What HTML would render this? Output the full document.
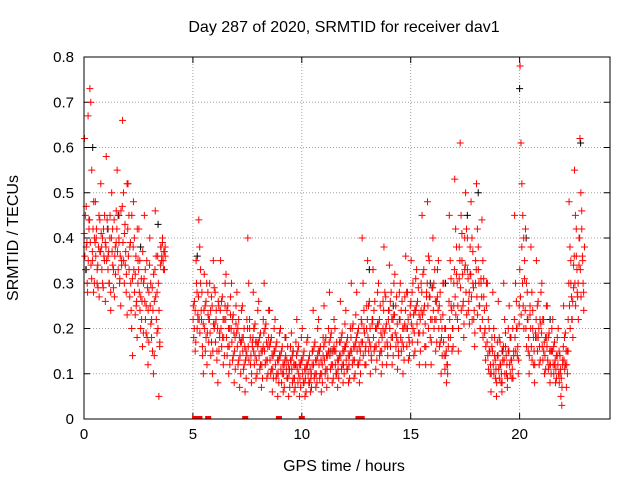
<!DOCTYPE html>
<html><head><meta charset="utf-8">
<style>
html,body{margin:0;padding:0;background:#fff;}
svg{display:block;font-family:"Liberation Sans",sans-serif;}
</style></head>
<body>
<svg id="chart" width="640" height="480" viewBox="0 0 640 480" xmlns="http://www.w3.org/2000/svg">
<text x="344" y="32" font-size="16" text-anchor="middle">Day 287 of 2020, SRMTID for receiver dav1</text>
<text transform="translate(18,238) rotate(-90)" font-size="16" text-anchor="middle">SRMTID / TECUs</text>
<text x="344" y="471" font-size="16" text-anchor="middle">GPS time / hours</text>
<g id="grid"></g>
<g id="ticks"></g>
<g id="points"></g>
<rect x="84" y="57" width="526" height="362" fill="none" stroke="#000" stroke-width="1"/>
</svg>
<script>
const xTicks=[0,5,10,15,20];
const yTicks=[0,0.1,0.2,0.3,0.4,0.5,0.6,0.7,0.8];
const yTickLabels=["0","0.1","0.2","0.3","0.4","0.5","0.6","0.7","0.8"];
const binStarts=[0,0.25,0.5,0.75,1,1.25,1.5,1.75,2,2.25,2.5,2.75,3,3.25,3.5,5,5.25,5.5,5.75,6,6.25,6.5,6.75,7,7.25,7.5,7.75,8,8.25,8.5,8.75,9,9.25,9.5,9.75,10,10.25,10.5,10.75,11,11.25,11.5,11.75,12,12.25,12.5,12.75,13,13.25,13.5,13.75,14,14.25,14.5,14.75,15,15.25,15.5,15.75,16,16.25,16.5,16.75,17,17.25,17.5,17.75,18,18.25,18.5,18.75,19,19.25,19.5,19.75,20,20.25,20.5,20.75,21,21.25,21.5,21.75,22,22.25,22.5,22.75];
const binValues=[
[62,45,38,30,67,42],[73,70,55,35,28,40],[48,40,33,29,45,37],[52,38,30,42,35,26],[58,44,36,30,40,24],[50,42,33,27,38,46],[55,45,39,31,25,35],[66,50,41,34,28,23],[52,45,38,30,20,14],[48,40,32,25,18,35],[42,35,27,22,16,30],[45,33,25,18,12,28],[40,30,22,15,10,26],[46,36,28,20,5,17],[38,35,40,33,37,36],
[25,20,15,35,28,22],[44,38,30,22,16,10],[32,25,18,12,28,22],[30,24,17,10,35,20],[28,22,15,8,25,18],[35,26,18,12,22,30],[32,24,16,10,20,27],[30,22,14,8,18,25],[28,20,13,7,17,24],[25,18,12,6,15,22],[40,30,20,12,8,16],[28,20,14,9,17,24],[26,18,12,7,15,22],[30,20,13,9,16,24],[24,17,11,6,14,20],[22,16,10,5,13,19],[20,15,10,6,12,18],[18,13,9,5,11,16],[19,14,9,6,12,17],[22,15,10,5,12,18],[20,14,8,5,11,17],[18,13,8,6,10,15],[24,16,10,7,13,20],[22,15,10,6,12,18],[25,17,11,7,14,20],[28,18,12,8,15,22],[20,15,10,7,13,17],[26,18,12,8,15,21],[24,17,11,8,14,20],[30,20,13,9,16,23],[28,19,12,8,15,22],[40,30,20,12,16,25],[35,25,17,10,14,22],[33,24,16,11,20,28],[30,22,15,10,18,26],[38,28,20,12,16,24],[34,26,18,12,22,30],[32,25,18,11,15,28],[30,24,17,10,20,27],[36,28,20,13,17,25],[35,28,20,14,24,31],[33,26,19,12,22,30],[45,32,24,16,12,28],[48,36,27,18,12,22],[40,30,22,15,26,33],[35,25,17,10,20,30],[30,20,14,8,12,18],[45,35,25,15,20,30],[53,42,32,22,15,38],[61,45,35,25,18,40],[50,42,33,24,28,38],[48,40,30,22,16,35],[52,42,33,25,20,30],[44,35,27,19,13,30],[30,22,15,10,6,18],[28,20,14,9,5,17],[26,18,12,8,6,15],[30,22,16,10,7,20],[25,18,13,9,20,15],[45,30,20,14,10,25],[78,61,52,45,40,35],[42,30,22,15,10,25],[38,28,20,12,8,18],[35,25,18,12,22,28],[30,22,15,10,18,25],[25,18,12,8,15,20],[22,16,12,8,14,18],[20,15,10,5,3,13],[25,18,12,7,15,22],[48,38,30,22,26,34],[55,45,36,28,30,40],[62,50,42,35,28,38]];
const binValues2=[
[41,36,33,47,39,28,35,44],[44,39,34,31,37,42,48,30],[39,36,42,30,34,38,27,44],[37,41,33,40,29,36,45,39],[38,35,42,33,37,30,45,28],[40,37,34,29,44,36,32,39],[42,37,33,40,30,36,46,34],[47,39,35,30,43,37,32,52],[42,36,33,27,39,24,45,31],[38,33,28,23,36,26,42,30],[33,28,24,20,31,26,37,19],[31,26,22,19,35,29,24,17],[34,25,21,18,29,24,32,14],[33,27,22,19,36,30,24,16],[34,38,36,39,35,37,33,38],
[22,18,26,24,17,30,20,23],[27,22,19,33,24,28,14,21],[24,20,15,26,30,19,23,17],[22,19,14,27,25,15,21,29],[21,17,24,13,20,26,15,19],[24,20,16,27,22,18,14,25],[22,18,14,25,20,16,12,23],[20,17,13,23,19,15,11,21],[19,16,12,22,18,14,10,17],[18,15,11,20,16,13,9,14],[20,16,13,22,18,14,10,17],[18,15,12,21,17,13,10,16],[17,14,11,19,15,12,9,16],[19,15,12,21,17,13,10,18],[16,13,10,18,14,11,9,15],[15,12,9,17,13,10,8,14],[14,11,8,16,12,10,7,13],[14,11,9,16,12,10,7,13],[13,11,8,15,12,9,7,12],[14,11,8,16,12,9,7,13],[13,10,8,15,11,9,6,12],[12,10,8,14,11,9,7,12],[15,12,9,17,13,10,8,14],[15,12,9,16,13,10,8,14],[16,13,10,18,14,11,9,15],[17,14,11,19,15,12,9,16],[15,12,10,17,13,11,9,14],[17,14,11,19,15,12,10,16],[16,13,11,18,14,12,9,15],[18,15,12,21,16,13,10,17],[18,15,12,20,16,13,10,17],[21,17,14,24,19,15,12,20],[22,18,15,26,20,16,13,21],[22,18,15,26,20,16,13,21],[21,17,14,25,19,15,12,20],[24,19,16,27,21,17,14,22],[24,20,16,28,22,18,14,23],[23,19,16,27,21,17,14,22],[22,18,15,26,20,16,13,21],[24,20,16,28,22,18,14,23],[26,21,17,30,23,19,15,24],[25,21,17,29,23,19,15,24],[28,23,19,33,25,21,16,27],[30,25,20,35,27,22,17,29],[29,24,20,33,26,22,17,27],[24,20,16,28,22,18,14,23],[17,14,11,20,15,12,10,16],[26,22,18,31,24,20,16,25],[33,27,23,38,30,25,20,31],[35,29,24,41,32,26,21,33],[34,28,23,40,31,26,21,32],[32,27,22,37,29,24,19,30],[33,27,23,38,30,25,20,31],[27,22,18,31,24,20,16,25],[17,14,11,20,15,12,10,16],[15,12,10,18,13,11,8,14],[14,11,9,17,12,10,8,13],[16,13,10,19,14,12,9,15],[15,12,10,18,13,11,9,14],[22,18,15,26,20,16,13,21],[33,27,23,38,30,25,20,31],[24,20,16,28,22,18,14,23],[20,16,13,24,18,15,12,19],[22,18,15,26,20,16,13,21],[19,16,13,22,17,14,11,18],[16,13,11,19,15,12,10,15],[15,12,10,17,13,11,9,14],[12,10,8,14,11,9,7,12],[16,13,11,19,15,12,10,15],[30,25,20,35,27,22,18,29],[36,30,25,42,33,27,22,34],[40,33,27,46,36,30,24,38]];
const zeroTimes=[5.1,5.3,5.7,7.4,8.95,10.0,12.6,12.75];
const blackTimes=[0.1,0.4,1.6,2.6,3.4,5.2,9.6,13.1,15.9,17.6,18.1,20.0,20.3,22.8,1.1,7.8,11.3,14.2,16.6,19.2,21.4];
const blackValues=[0.33,0.6,0.45,0.38,0.43,0.36,0.15,0.33,0.3,0.45,0.5,0.73,0.4,0.61,0.42,0.2,0.15,0.25,0.3,0.15,0.22];

const NS="http://www.w3.org/2000/svg";
const X0=84,X1=610,Y0=419,Y1=57;
const xs=t=>X0+t/24.15*(X1-X0);
const ys=v=>Y0-v/0.8*(Y0-Y1);
const grid=document.getElementById('grid'),ticks=document.getElementById('ticks'),pts=document.getElementById('points');
function mk(tag,attrs,parent){const e=document.createElementNS(NS,tag);for(const k in attrs)e.setAttribute(k,attrs[k]);parent.appendChild(e);return e;}
xTicks.forEach(t=>{
  const x=xs(t);
  if(t>0){const g=mk('line',{x1:x,x2:x,y1:Y0,y2:Y1,stroke:'#a0a0a0','stroke-dasharray':'1,2'},grid);
  
  }
  mk('line',{x1:x,x2:x,y1:Y0,y2:Y0-6,stroke:'#000'},ticks);
  mk('line',{x1:x,x2:x,y1:Y1,y2:Y1+6,stroke:'#000'},ticks);
  const l=mk('text',{x:x,y:Y0+20,'font-size':'15','text-anchor':'middle'},ticks);l.textContent=t;
  
  
});
yTicks.forEach((v,i)=>{
  const y=ys(v);
  if(i>0&&i<yTicks.length-1){const g=mk('line',{x1:X0,x2:X1,y1:y,y2:y,stroke:'#a0a0a0','stroke-dasharray':'1,2'},grid);
  
  }
  mk('line',{x1:X0,x2:X0+6,y1:y,y2:y,stroke:'#000'},ticks);
  mk('line',{x1:X1,x2:X1-6,y1:y,y2:y,stroke:'#000'},ticks);
  const l=mk('text',{x:X0-10,y:y+5,'font-size':'15','text-anchor':'end'},ticks);l.textContent=yTickLabels[i];
  
  
});
function plus(t,v,color){
  const x=xs(t),y=ys(v);
  const p=mk('path',{d:`M${x-3.5},${y}H${x+3.5}M${x},${y-3.5}V${y+3.5}`,stroke:color,'stroke-width':'1',fill:'none'},pts);
  
  
}
blackTimes.forEach((t,i)=>plus(t,blackValues[i],'#000'));
binStarts.forEach((t0,b)=>{
  const vals=binValues[b];
  vals.forEach((v,i)=>plus(t0+(i+0.5)*0.25/vals.length,v/100,'#ff0000'));
  const vals2=binValues2[b];
  vals2.forEach((v,i)=>plus(t0+(i+0.25)*0.25/vals2.length,v/100,'#ff0000'));
});
zeroTimes.forEach(t=>{
  const x=xs(t),y=ys(0);
  const r=mk('rect',{x:x-3,y:y-3,width:6,height:3,fill:'#ff0000'},pts);
  
  
});
</script>
</body></html>
